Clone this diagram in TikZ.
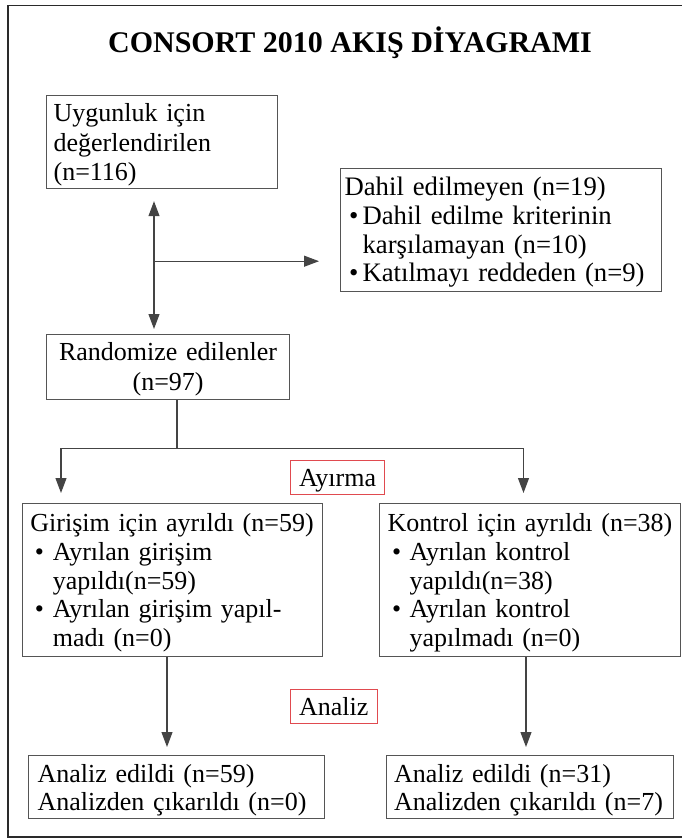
\documentclass[tikz,border=0pt]{standalone}
\usepackage{fontspec}
\setmainfont{Liberation Serif}
\usetikzlibrary{arrows.meta,calc}
\definecolor{boxgray}{HTML}{555555}
\definecolor{linegray}{HTML}{444444}
\definecolor{framegray}{HTML}{2A2A2A}
\definecolor{redbox}{HTML}{E04A4F}
\newcommand{\bul}[1]{\makebox[#1][l]{\hspace{4.5pt}\textbullet}}
\newcommand{\ind}[1]{\hspace*{#1}}
\newcommand{\topst}[1]{\rule{0pt}{#1pt}}
\newcommand{\botst}[1]{\rule[-#1pt]{0pt}{#1pt}}
\tikzset{
  fs/.style={font=\fontsize{26}{#1}\selectfont},
  fsb/.style={font=\fontsize{26.7}{#1}\selectfont},
  box/.style={draw=boxgray, line width=1.2pt, rectangle, anchor=north west, inner ysep=0pt},
  lbox/.style={box, align=left},
  cbox/.style={box, align=center},
  rbox/.style={draw=redbox, line width=1.1pt, rectangle, anchor=north west, inner sep=0pt, align=center, fs=28},
  conn/.style={draw=linegray, line width=1.1pt},
  tip/.style={-{Triangle[length=15pt,width=11pt]}},
  dtip/.style={{Triangle[length=15pt,width=11pt]}-{Triangle[length=15pt,width=11pt]}},
  frame/.style={draw=framegray, line width=1.6pt},
  title/.style={font=\fontsize{30}{34}\selectfont\bfseries, anchor=base, text=black}
}
\begin{document}
\begin{tikzpicture}[x=1pt,y=-1pt]
\useasboundingbox (0,0) rectangle (682,839);
% frame (its right side lies outside the picture)
\draw[frame] (682,5.5) -- (8,5.5) -- (8,837) -- (682,837);

\node[title] (t) at (350,52.5) {CONSORT 2010 AKIŞ DİYAGRAMI};

\node[lbox, fs=29.5, inner xsep=7.3pt, text width=216.4pt, minimum height=93pt] (u) at (45.7,95)
  {\mbox{\topst{26}Uygunluk için}\\\mbox{değerlendirilen}\\\mbox{(n=116)\botst{8}}};
\node[lbox, fsb=28.75, inner xsep=4pt, text width=313pt, minimum height=123pt] (d) at (340,168)
  {\mbox{\topst{27}Dahil edilmeyen (n=19)}\\
   \mbox{\bul{18pt}Dahil edilme kriterinin}\\
   \mbox{\ind{18pt}karşılamayan (n=10)}\\
   \mbox{\bul{18pt}Katılmayı reddeden (n=9)\botst{9.75}}};
\node[cbox, fs=30, inner xsep=5pt, text width=233pt, minimum height=65pt] (r) at (46,334)
  {\topst{26}Randomize edilenler\\(n=97)\botst{9}};
\node[rbox, minimum width=94pt, minimum height=34pt] (ay) at (290,460) {\topst{25.5}Ayırma\botst{8.5}};
\node[lbox, fs=28.75, inner xsep=7.8pt, text width=284.4pt, minimum height=153pt] (g) at (22,503)
  {\mbox{\topst{28}Girişim için ayrıldı (n=59)}\\
   \mbox{\bul{22.5pt}Ayrılan girişim}\\
   \mbox{\ind{22.5pt}yapıldı(n=59)}\\
   \mbox{\bul{22.5pt}Ayrılan girişim yapıl-}\\
   \mbox{\ind{22.5pt}madı (n=0)\botst{10}}};
\node[lbox, fs=28.75, inner xsep=8pt, text width=285pt, minimum height=153pt] (k) at (379,503)
  {\mbox{\topst{28}Kontrol için ayrıldı (n=38)}\\
   \mbox{\bul{22pt}Ayrılan kontrol}\\
   \mbox{\ind{22pt}yapıldı(n=38)}\\
   \mbox{\bul{22pt}Ayrılan kontrol}\\
   \mbox{\ind{22pt}yapılmadı (n=0)\botst{10}}};
\node[rbox, minimum width=86.5pt, minimum height=34pt] (an) at (290,689) {\topst{25.5}Analiz\botst{8.5}};
\node[lbox, fs=28.3, inner xsep=9pt, text width=278pt, minimum height=63pt] (bl) at (28,755)
  {\mbox{\topst{26.7}Analiz edildi (n=59)}\\\mbox{Analizden çıkarıldı (n=0)\botst{8}}};
\node[lbox, fs=28.3, inner xsep=7.5pt, text width=272pt, minimum height=63pt] (br) at (386,755)
  {\mbox{\topst{26.7}Analiz edildi (n=31)}\\\mbox{Analizden çıkarıldı (n=7)\botst{8}}};

% connectors
\coordinate (vtop) at ($(u.south west)+(108.3,12)$);
\coordinate (vmid) at ($(u.south west)+(108.3,72)$);
\coordinate (vbot) at ($(r.north west)+(108,-5)$);
\coordinate (hend) at ($(d.west)+(-21,0)$);
\draw[conn, dtip] (vtop) -- (vbot);
\draw[conn, tip] (vmid) -- (vmid -| hend);

\coordinate (rs) at ($(r.south west)+(131,0)$);
\coordinate (split) at ($(rs)+(0,48)$);
\coordinate (gl) at ($(g.north west)+(39,-10)$);
\coordinate (kl) at ($(k.north west)+(144.5,-10)$);
\draw[conn] (rs) -- (split);
\draw[conn, tip] (split) -| (gl);
\draw[conn, tip] (split) -| (kl);

\coordinate (gs) at ($(g.south west)+(145,0)$);
\coordinate (ks) at ($(k.south west)+(147,0)$);
\draw[conn, tip] (gs) -- ($(bl.north west)+(139,-8)$);
\draw[conn, tip] (ks) -- ($(br.north west)+(140,-8)$);
\end{tikzpicture}
\end{document}
